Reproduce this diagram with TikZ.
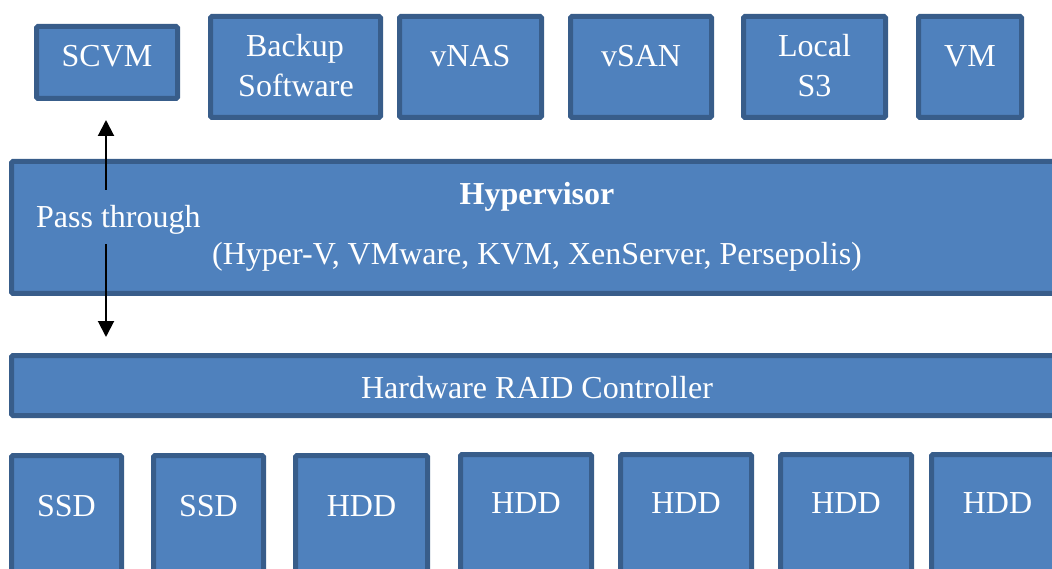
\documentclass[tikz,border=0pt]{standalone}
\usepackage{fontspec}
\setmainfont{Liberation Serif}
\usetikzlibrary{arrows.meta}
\definecolor{boxfill}{HTML}{4F81BD}
\definecolor{boxline}{HTML}{385D8A}
\begin{document}
\begin{tikzpicture}[x=1pt,y=-1pt,
  box/.style={draw=boxline, fill=boxfill, line width=5pt, rounded corners=1.5pt, inner sep=0pt},
  lbl/.style={text=white, font=\fontsize{32}{38}\selectfont, inner sep=0pt, anchor=base},
  conn/.style={line width=2pt, -{Triangle[width=16pt,length=16pt]}}]
\useasboundingbox (0,0) rectangle (1052,569);
\clip (0,0) rectangle (1052,569);

% top row: services running on the hypervisor
\node[box, minimum width=141pt, minimum height=72pt]  (scvm)   at (107,62.5) {};
\node[box, minimum width=170pt, minimum height=101pt] (backup) at (295.5,67) {};
\node[box, minimum width=142pt, minimum height=101pt] (vnas)   at (470.5,67) {};
\node[box, minimum width=141pt, minimum height=101pt] (vsan)   at (641,67) {};
\node[box, minimum width=142pt, minimum height=101pt] (locs3)  at (814.5,67) {};
\node[box, minimum width=103pt, minimum height=101pt] (vm)     at (970,67) {};

\node[lbl] (scvm-t)    at (107,67)   {SCVM};
\node[lbl] (backup-t1) at (295,57)   {Backup};
\node[lbl] (backup-t2) at (296,97)   {Software};
\node[lbl] (vnas-t)    at (470.5,67) {vNAS};
\node[lbl] (vsan-t)    at (641,67)   {vSAN};
\node[lbl] (locs3-t1)  at (814.5,57) {Local};
\node[lbl] (locs3-t2)  at (814.5,97) {S3};
\node[lbl] (vm-t)      at (970,67)   {VM};

% hypervisor layer
\node[box, minimum width=1052pt, minimum height=132pt] (hyper) at (537.5,227.5) {};
\node[lbl, font=\fontsize{32}{38}\selectfont\bfseries] (hyper-t1) at (537,205) {Hypervisor};
\node[lbl] (hyper-t2) at (537,265) {(Hyper-V, VMware, KVM, XenServer, Persepolis)};

% RAID controller layer
\node[box, minimum width=1052pt, minimum height=60pt] (raid) at (537.5,385.5) {};
\node[lbl] (raid-t) at (537,398) {Hardware RAID Controller};

% disks
\node[box, minimum width=110pt, minimum height=162pt] (ssd1) at (66.5,536.5) {};
\node[box, minimum width=110pt, minimum height=162pt] (ssd2) at (208.5,536.5) {};
\node[box, minimum width=132pt, minimum height=162pt] (hdd1) at (361.5,536.5) {};
\node[box, minimum width=131pt, minimum height=163pt] (hdd2) at (526,536) {};
\node[box, minimum width=131pt, minimum height=163pt] (hdd3) at (686,536) {};
\node[box, minimum width=131pt, minimum height=163pt] (hdd4) at (846,536) {};
\node[box, minimum width=132pt, minimum height=163pt] (hdd5) at (997.5,536) {};

\node[lbl] (ssd1-t) at (66.5,516)  {SSD};
\node[lbl] (ssd2-t) at (208.5,516) {SSD};
\node[lbl] (hdd1-t) at (361.5,516) {HDD};
\node[lbl] (hdd2-t) at (526,513.5) {HDD};
\node[lbl] (hdd3-t) at (686,513.5) {HDD};
\node[lbl] (hdd4-t) at (846,513.5) {HDD};
\node[lbl] (hdd5-t) at (997.5,513.5) {HDD};

% pass-through path from the RAID controller to the storage VM
\node[lbl, anchor=base west, text height=38pt, text depth=16pt] (pass) at (36,228) {Pass through};
\draw[conn, shorten >=19pt] ([xshift=-1pt]pass.north -| scvm.south) -- ([xshift=-1pt]scvm.south);
\draw[conn, shorten >=16pt] ([xshift=-1pt]pass.south -| scvm.south) -- ([xshift=-1pt]scvm.south |- raid.north);
\end{tikzpicture}
\end{document}
